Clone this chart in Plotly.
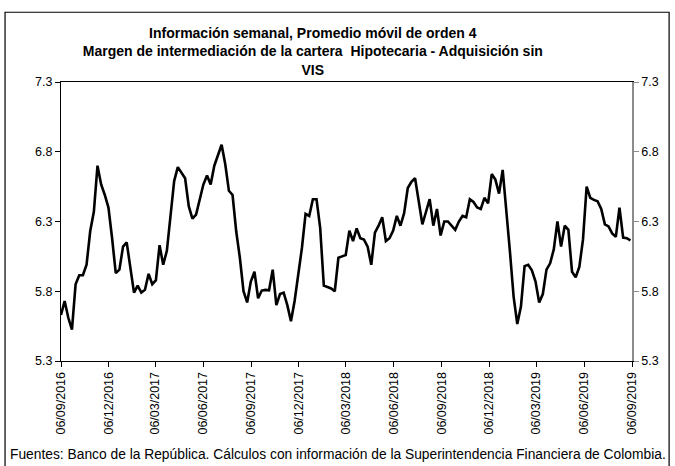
import pandas as pd
import plotly.graph_objects as go

# weekly 4-week moving average
start_date = "2016-09-06"
margin_2016_17 = [
    5.63, 5.73, 5.61, 5.525, 5.85, 5.915, 5.915, 5.99, 6.23, 6.37,
    6.70, 6.565, 6.49, 6.40, 6.18, 5.93, 5.955, 6.12, 6.15, 5.955,
    5.79, 5.84, 5.79, 5.81, 5.925, 5.85, 5.88, 6.13, 5.99, 6.09,
    6.35, 6.59, 6.69, 6.65, 6.61, 6.41, 6.32, 6.35, 6.47, 6.565,
    6.63, 6.565, 6.70, 6.77, 6.85, 6.71, 6.52, 6.49, 6.23, 6.04,
    5.80, 5.72,
]
margin_2017_18 = [
    5.87, 5.94, 5.75, 5.805, 5.81, 5.807, 5.955, 5.70, 5.78, 5.79,
    5.70, 5.585, 5.73, 5.92, 6.11, 6.355, 6.34, 6.46, 6.46, 6.255,
    5.84, 5.83, 5.82, 5.80, 6.04, 6.05, 6.06, 6.235, 6.16, 6.25,
    6.18, 6.17, 6.12, 5.99, 6.22, 6.27, 6.33, 6.16, 6.18, 6.235,
    6.34, 6.27, 6.36, 6.54, 6.585, 6.61, 6.45, 6.28, 6.37, 6.46,
    6.27, 6.39,
]
margin_2018_19 = [
    6.20, 6.30, 6.30, 6.27, 6.24, 6.30, 6.34, 6.33, 6.46, 6.44,
    6.40, 6.39, 6.47, 6.43, 6.64, 6.60, 6.50, 6.67, 6.40, 6.08,
    5.76, 5.565, 5.69, 5.98, 5.99, 5.95, 5.87, 5.72, 5.78, 5.955,
    6.00, 6.10, 6.30, 6.12, 6.27, 6.24, 5.94, 5.90, 5.975, 6.17,
    6.55, 6.47, 6.455, 6.445, 6.39, 6.28, 6.265, 6.215, 6.19, 6.40,
    6.185, 6.18, 6.165,
]
tick_dates = [
    "2016-09-06", "2016-12-06", "2017-03-06", "2017-06-06", "2017-09-06",
    "2017-12-06", "2018-03-06", "2018-06-06", "2018-09-06", "2018-12-06",
    "2019-03-06", "2019-06-06", "2019-09-06",
]
tick_labels = [
    "06/09/2016", "06/12/2016", "06/03/2017", "06/06/2017", "06/09/2017",
    "06/12/2017", "06/03/2018", "06/06/2018", "06/09/2018", "06/12/2018",
    "06/03/2019", "06/06/2019", "06/09/2019",
]
y_ticks = [5.3, 5.8, 6.3, 6.8, 7.3]

values = margin_2016_17 + margin_2017_18 + margin_2018_19
dates = pd.date_range(start_date, periods=len(values), freq="7D")

FONT = "Liberation Sans, Arial, sans-serif"

fig = go.Figure()
fig.add_trace(go.Scatter(
    x=dates, y=values, mode="lines",
    line=dict(color="black", width=2.6),
    showlegend=False,
))
# dummy trace so the right-hand axis is drawn
fig.add_trace(go.Scatter(
    x=dates, y=values, mode="lines", yaxis="y2",
    line=dict(color="rgba(0,0,0,0)", width=0),
    hoverinfo="skip", showlegend=False,
))

fig.update_layout(
    width=675, height=466,
    margin=dict(l=61, r=43, t=82, b=105),
    plot_bgcolor="white", paper_bgcolor="white",
    font=dict(family=FONT, size=12, color="black"),
    title=dict(
        text="<b>Información semanal, Promedio móvil de orden 4<br>"
             "Margen de intermediación de la cartera  Hipotecaria - Adquisición sin<br>"
             "VIS</b>",
        font=dict(family=FONT, size=14, color="black"),
        x=0.441, xref="paper", xanchor="center",
        y=0.918, yref="container", yanchor="top",
    ),
    xaxis=dict(
        type="date",
        range=[tick_dates[0], tick_dates[-1]],
        tickvals=tick_dates, ticktext=tick_labels,
        tickangle=-90,
        showgrid=False, zeroline=False,
        showline=True, linecolor="black", linewidth=1, mirror=True,
        ticks="outside", ticklen=5, tickcolor="black",
        tickfont=dict(size=12.5),
    ),
    yaxis=dict(
        range=[5.3, 7.3], tickvals=y_ticks, tickformat=".1f",
        showgrid=False, zeroline=False,
        showline=True, linecolor="black", linewidth=1,
        ticks="outside", ticklen=5, tickcolor="black",
        tickfont=dict(size=12.5),
    ),
    yaxis2=dict(
        range=[5.3, 7.3], tickvals=y_ticks, tickformat=".1f",
        overlaying="y", side="right",
        showgrid=False, zeroline=False,
        showline=True, linecolor="#8c8c8c", linewidth=1.5,
        ticks="outside", ticklen=5, tickcolor="#8c8c8c",
        tickfont=dict(size=12.5),
    ),
)

fig.add_annotation(
    text="Fuentes: Banco de la República. Cálculos con información de la "
         "Superintendencia Financiera de Colombia.",
    xref="paper", yref="paper", x=-0.0928, y=-0.336,
    xanchor="left", yanchor="middle", showarrow=False,
    font=dict(family=FONT, size=13.8, color="black"),
)

# outer chart frame
fig.add_shape(
    type="rect", xref="paper", yref="paper",
    x0=-0.098, x1=1.065, y0=-0.40, y1=1.25,
    line=dict(color="black", width=1.2), layer="below",
)

# drop the default 8px page margin so the chart sits at the window corner
fig.write_html(
    "out.html",
    config={"displayModeBar": False},
    post_script="document.body.style.margin='0';document.body.style.overflow='hidden';",
)
